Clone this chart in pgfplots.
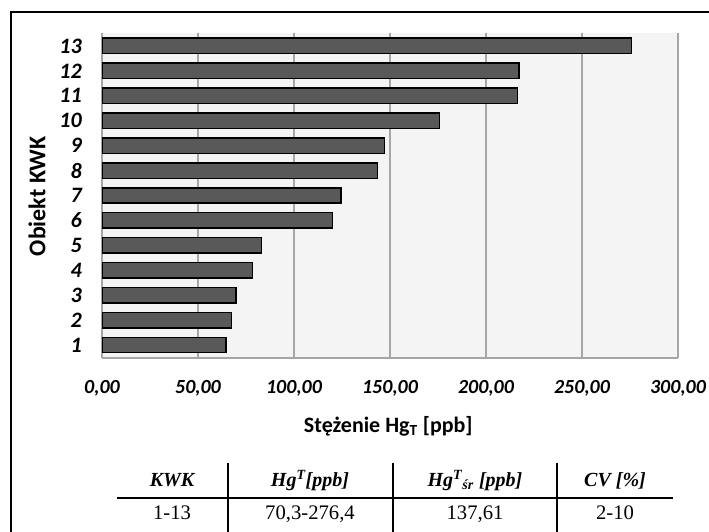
\documentclass[border=0pt]{standalone}
\usepackage{fontspec}
\setmainfont{Carlito}
\newfontfamily\tabfont{Liberation Serif}
\usepackage{pgfplots}
\usepackage{pgfplotstable}
\pgfplotsset{compat=1.18}
\definecolor{barfill}{HTML}{595959}
\definecolor{plotbg}{HTML}{F4F4F4}
\definecolor{gridgray}{HTML}{A6A6A6}

% Hg_T concentration per KWK object [ppb]
\pgfplotstableread{
obj val
1 64.7
2 67.5
3 69.8
4 78.3
5 83.2
6 120.1
7 124.5
8 143.6
9 147.0
10 175.7
11 216.3
12 217.2
13 275.9
}\hgdata

\begin{document}
\begin{tikzpicture}
\clip (0,0) rectangle (531.75pt,398.25pt);
\draw[line width=1.5pt] (8.25pt,-2pt) -- (8.25pt,389.25pt) -- (540pt,389.25pt);
\begin{axis}[
    at={(76.5pt,129.75pt)}, anchor=south west,
    scale only axis, width=432pt, height=243.75pt,
    xbar, bar width=0.62,
    xmin=0, xmax=300, ymin=0.48, ymax=13.52,
    ytick={1,...,13}, xtick={0,50,...,300},
    axis background/.style={fill=plotbg},
    xmajorgrids, grid style={gridgray, line width=0.8pt},
    major tick length=0pt,
    axis x line*=bottom, axis y line*=left,
    axis line style={gridgray, line width=0.8pt},
    xticklabel style={/pgf/number format/.cd, fixed, fixed zerofill, precision=2, use comma, assume math mode=true,
        /tikz/.cd, font=\fontsize{15}{18}\selectfont\bfseries\itshape, anchor=base, inner sep=0pt, yshift=-27pt},
    yticklabel style={/pgf/number format/assume math mode=true,
        font=\fontsize{16.5}{19}\selectfont\bfseries\itshape, anchor=east, inner sep=0pt, xshift=-15pt},
    ylabel={Obiekt KWK},
    ylabel style={at={(axis description cs:-0.1128,0.498)}, anchor=center, font=\fontsize{18}{21}\selectfont\bfseries},
    xlabel={Stężenie Hg\textsubscript{T} [ppb]},
    xlabel style={at={(axis description cs:0.497,-0.209)}, anchor=center, font=\fontsize{16.5}{19}\selectfont\bfseries},
]
\addplot[fill=barfill, draw=black, line width=1.1pt] table[x=val, y=obj] {\hgdata};
\end{axis}
% summary table below the chart
\draw[line width=1.5pt] (87.75pt,24.75pt) -- (504.75pt,24.75pt);
\foreach \xx in {171,294.75,417.75}
  \draw[line width=1pt] (\xx pt,51pt) -- (\xx pt,-2pt);
\begin{scope}[every node/.style={anchor=base, inner sep=0pt}]
\begin{scope}[every node/.append style={font=\tabfont\fontsize{15}{18}\selectfont\bfseries\itshape}]
\node at (129pt,33.75pt) {KWK};
\node at (232.5pt,33.75pt) {Hg\textsuperscript{T}[ppb]};
\node at (356.25pt,33.75pt) {Hg\textsuperscript{T}\textsubscript{śr} [ppb]};
\node at (461.25pt,33.75pt) {CV [\%]};
\end{scope}
\begin{scope}[every node/.append style={font=\tabfont\fontsize{15.5}{18}\selectfont}]
\node at (129pt,9pt) {1-13};
\node at (232.5pt,9pt) {70,3-276,4};
\node at (356.25pt,9pt) {137,61};
\node at (461.25pt,9pt) {2-10};
\end{scope}
\end{scope}
\end{tikzpicture}
\end{document}
